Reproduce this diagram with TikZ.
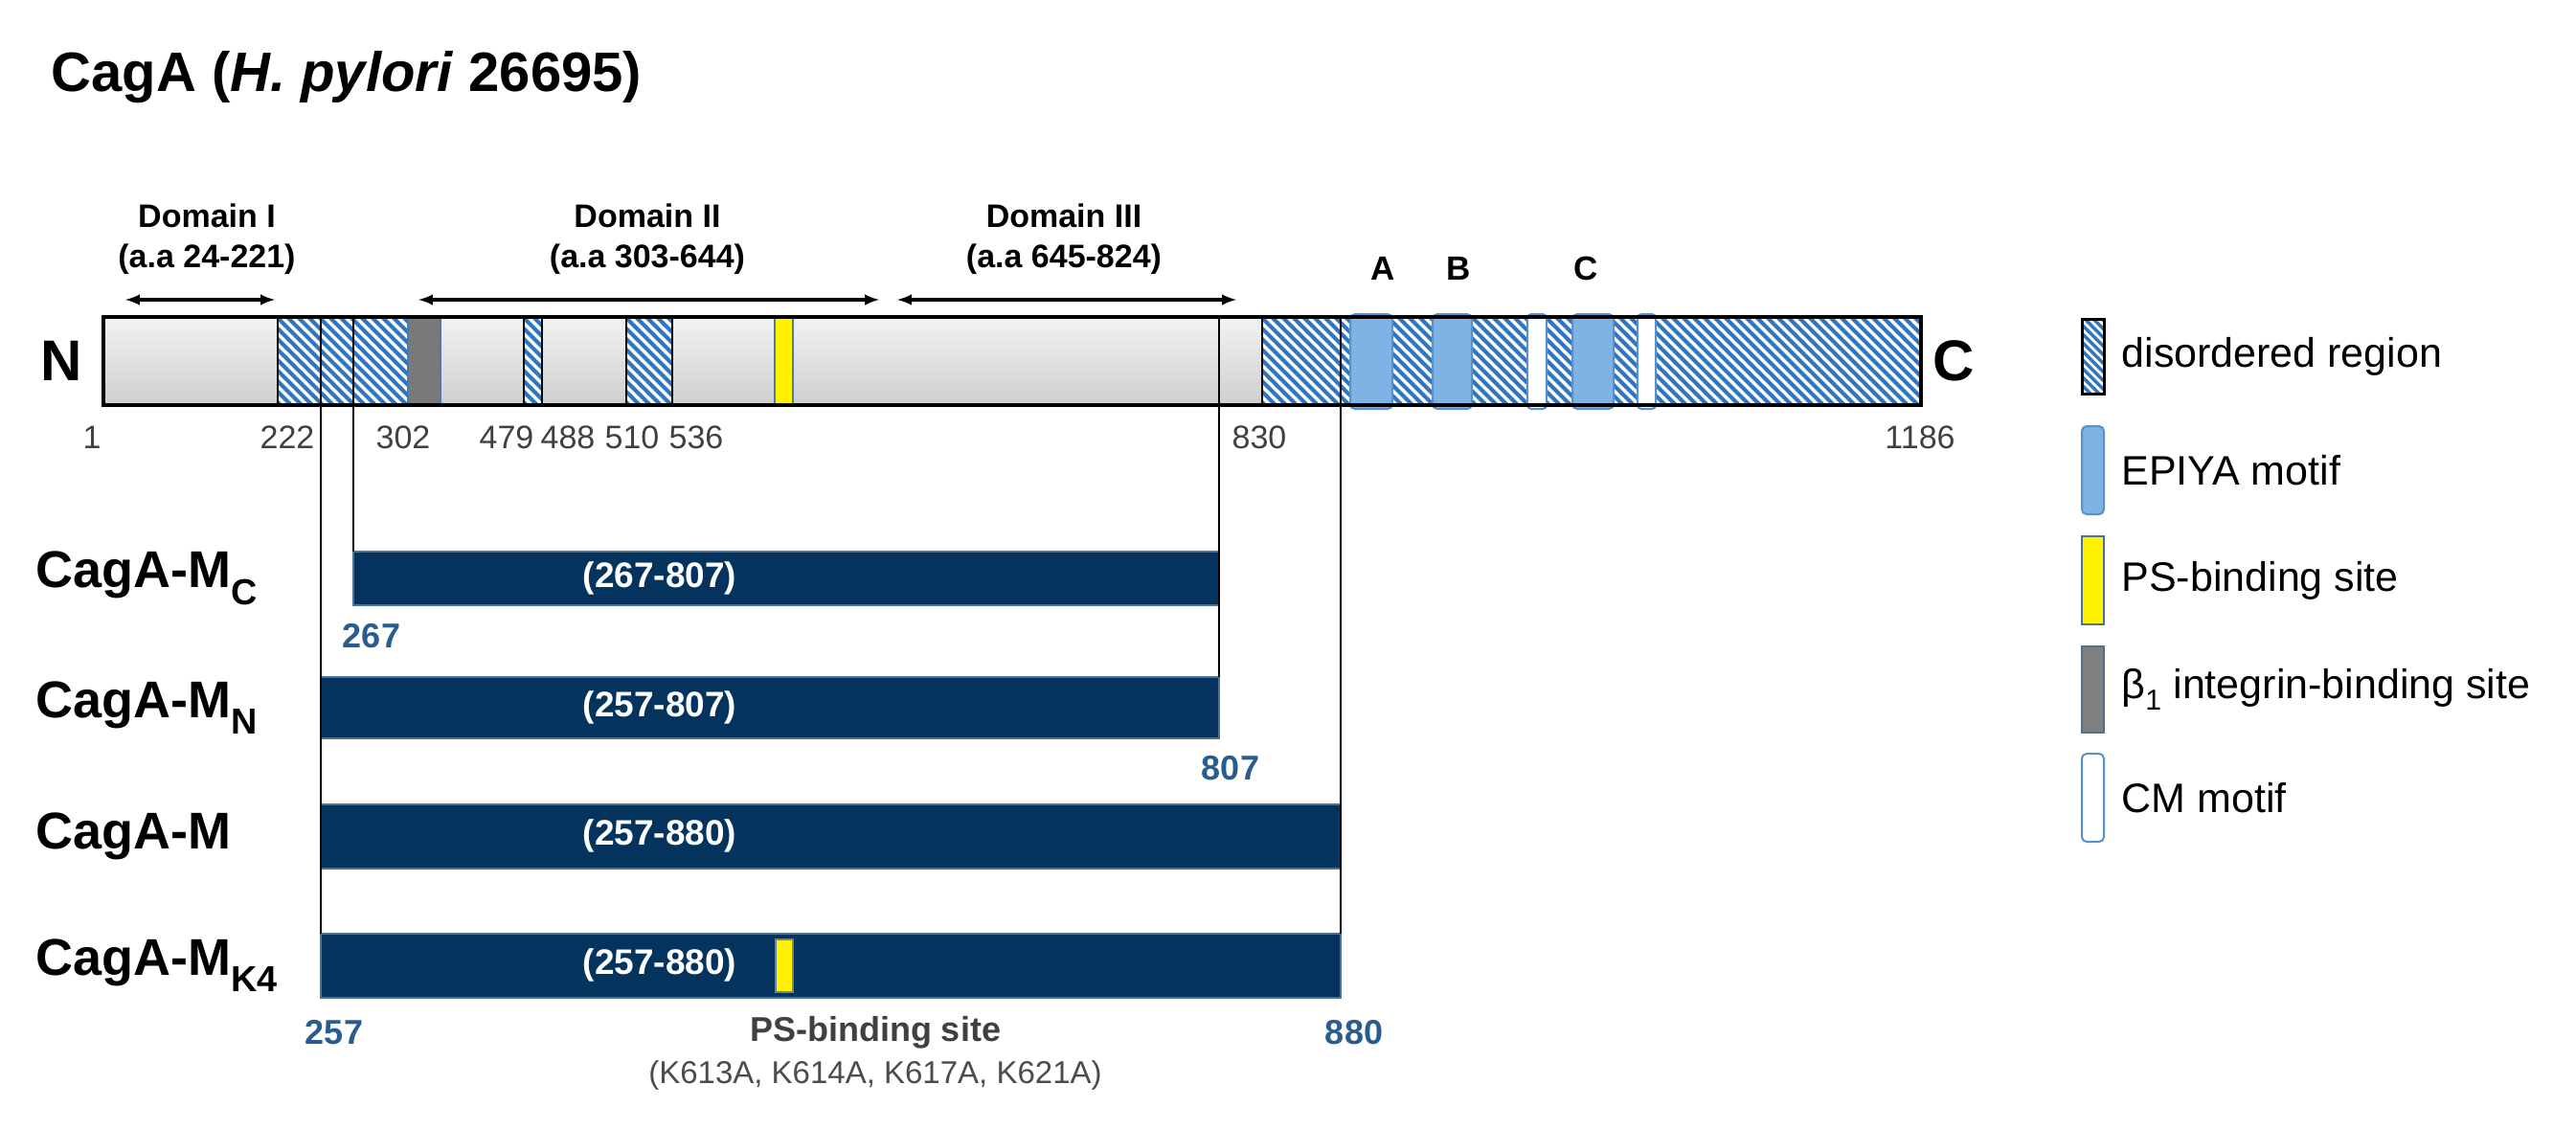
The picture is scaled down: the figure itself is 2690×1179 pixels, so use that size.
\documentclass[tikz,border=0pt]{standalone}
\usepackage{fontspec}
\setmainfont{Liberation Sans}
\definecolor{navy}{HTML}{04345E}
\definecolor{hblue}{HTML}{2F75C0}
\definecolor{epi}{HTML}{7EB3E3}
\definecolor{numblue}{HTML}{2A5D8F}
\definecolor{barg}{HTML}{D4D4D4}
\newcommand{\fs}[1]{\fontsize{#1}{#1}\selectfont}
\newcommand{\hatchreg}[2]{%
  \begin{scope}
    \clip (#1,331) rectangle (#2,423);
    \fill[white] (#1,331) rectangle (#2,423);
    \foreach \s in {-100,-89,...,2010} {
      \pgfmathsetmacro{\xs}{#1+\s}
      \ifdim \xs pt < #2pt \draw[hblue,line width=4] (\xs,331) -- (\xs+92,423); \fi
    }
  \end{scope}
  \draw[line width=2] (#1,331) -- (#1,423) (#2,331) -- (#2,423);}
\begin{document}
\begin{tikzpicture}[x=1pt,y=-1pt,
  conbar/.style={fill=navy,draw=navy!70!white,line width=2},
  cons/.style={font=\fs{54}\bfseries,anchor=west},
  inlab/.style={font=\fs{37}\bfseries,text=white},
  num/.style={font=\fs{34},text=black!75},
  bnum/.style={font=\fs{36}\bfseries,text=numblue},
  dom/.style={font=\fs{34}\bfseries,align=center},
  legtxt/.style={font=\fs{43},anchor=west},
  darr/.style={<->,>=latex,line width=4},
  cline/.style={line width=2}]
\useasboundingbox (0,0) rectangle (2690,1179);
% title
\node[anchor=base west,font=\fs{58}\bfseries] (title) at (50,95) {CagA (\textit{H. pylori} 26695)};
% domains
\node[dom] (d1) at (216,250) {Domain I\\[8pt](a.a 24-221)};
\node[dom] (d2) at (676,250) {Domain II\\[8pt](a.a 303-644)};
\node[dom] (d3) at (1111,250) {Domain III\\[8pt](a.a 645-824)};
\coordinate (d1a) at (131,313); \coordinate (d1b) at (287,313);
\coordinate (d2a) at (437,313); \coordinate (d2b) at (918,313);
\coordinate (d3a) at (937,313); \coordinate (d3b) at (1291,313);
\draw[darr] (d1a) -- (d1b);
\draw[darr] (d2a) -- (d2b);
\draw[darr] (d3a) -- (d3b);
% main bar
\shade[top color=gray!10,bottom color=gray!38] (108,331) rectangle (2006,423);
\hatchreg{290}{426}
\hatchreg{547}{566}
\hatchreg{654}{702}
\hatchreg{1318}{2006}
\fill[gray!95!black,draw=hblue!60!gray,line width=1.5] (426,331) rectangle (460,423);
\fill[yellow,draw=hblue!60!gray,line width=1.5] (809,331) rectangle (828,423);
\foreach \a/\b in {1410/1454,1496/1537,1642/1685}
  \draw[fill=epi,draw=hblue!80,line width=2,rounded corners=5] (\a,328) rectangle (\b,427);
\foreach \a/\b in {1595/1615,1710/1729}
  \draw[fill=white,draw=hblue!80,line width=2,rounded corners=4] (\a,328) rectangle (\b,427);
\draw[line width=4] (108,331) rectangle (2006,423);
\node (main) at (1057,377) [minimum width=1898,minimum height=92,inner sep=0] {};
\node[font=\fs{60}\bfseries] (N) at (64,377) {N};
\node[font=\fs{60}\bfseries] (C) at (2040,377) {C};
\node[font=\fs{35}\bfseries] (A) at (1444,280) {A};
\node[font=\fs{35}\bfseries] (B) at (1523,280) {B};
\node[font=\fs{35}\bfseries] (Cm) at (1656,280) {C};
% position numbers
\foreach \x/\t in {96/1,300/222,421/302,529/479,593/488,660/510,727/536,1315/830,2005/1186}
  \node[num] at (\x,457) {\t};
% construct bars
\draw[conbar] (369,576) rectangle (1273,632);
\node[inlab] (mc) at (689,604) {(267-807)};
\draw[conbar] (335,707) rectangle (1273,771);
\node[inlab] (mn) at (689,739) {(257-807)};
\draw[conbar] (335,840) rectangle (1400,907);
\node[inlab] (mm) at (689,873) {(257-880)};
\draw[conbar] (335,975) rectangle (1400,1042);
\node[inlab] (mk) at (689,1008) {(257-880)};
\fill[yellow,draw=navy!60!white,line width=1.5] (810,981) rectangle (828,1036);
\node[cons] (lc) at (34,604) {CagA-M\textsubscript{C}};
\node[cons] (ln) at (34,739) {CagA-M\textsubscript{N}};
\node[cons] (lm) at (34,873) {CagA-M};
\node[cons] (lk) at (34,1008) {CagA-M\textsubscript{K4}};
% construct lines
\coordinate (t335) at (335,331); \coordinate (b335) at (335,975);
\coordinate (t369) at (369,331); \coordinate (b369) at (369,576);
\coordinate (t1273) at (1273,331); \coordinate (b1273) at (1273,707);
\coordinate (t1400) at (1400,331); \coordinate (b1400) at (1400,975);
\draw[cline] (t335) -- (b335);
\draw[cline] (t369) -- (b369);
\draw[cline] (t1273) -- (b1273);
\draw[cline] (t1400) -- (b1400);
\node[bnum] at (388,664) {267};
\node[bnum] at (1285,802) {807};
\node[bnum] at (349,1078) {257};
\node[bnum] at (1414,1078) {880};
\node[font=\fs{36}\bfseries,text=black!75] (ps) at (914,1078) {PS-binding site};
\node[font=\fs{33},text=black!70] (psm) at (914,1123) {(K613A, K614A, K617A, K621A)};
% legend
\begin{scope}
\clip (2174,333) rectangle (2197,411);
\fill[white] (2174,333) rectangle (2197,411);
\foreach \s in {-30,-21,...,80} \draw[hblue,line width=3.5] (2174,333+\s) -- (2197,356+\s);
\end{scope}
\draw[line width=3] (2174,333) rectangle (2197,411);
\draw[fill=epi,draw=hblue!80,line width=2,rounded corners=5] (2174,445) rectangle (2197,537);
\draw[fill=yellow,draw=navy!70,line width=2] (2174,560) rectangle (2197,652);
\draw[fill=gray,draw=navy!70,line width=2] (2174,675) rectangle (2197,765);
\draw[fill=white,draw=hblue!80,line width=2,rounded corners=5] (2174,787) rectangle (2197,879);
\node[legtxt] (l1) at (2212,372) {disordered region};
\node[legtxt] (l2) at (2212,491) {EPIYA motif};
\node[legtxt] (l3) at (2212,606) {PS-binding site};
\node[legtxt] (l4) at (2212,720) {β\textsubscript{1} integrin-binding site};
\node[legtxt] (l5) at (2212,833) {CM motif};
\end{tikzpicture}
\end{document}
